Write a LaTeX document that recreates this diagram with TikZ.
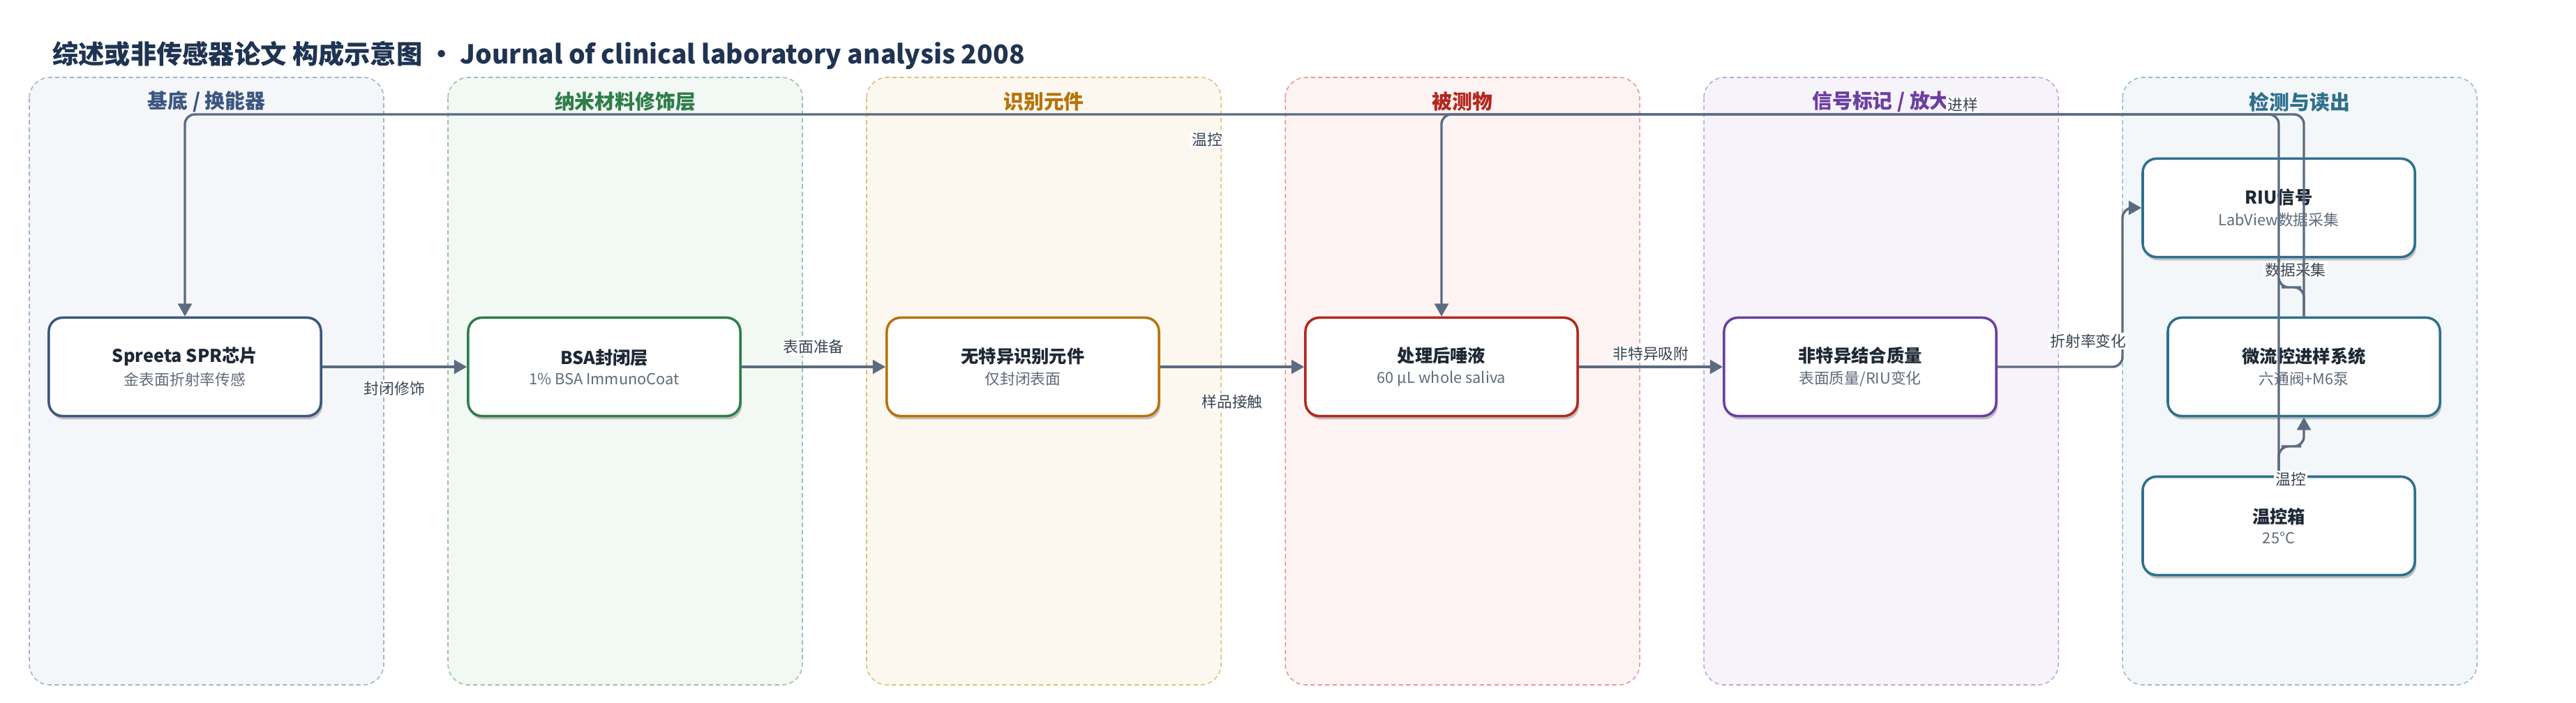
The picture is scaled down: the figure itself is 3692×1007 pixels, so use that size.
\documentclass[tikz,border=0pt]{standalone}
\usepackage{fontspec}
\setmainfont{Noto Sans CJK SC}
\usetikzlibrary{arrows.meta,shadows}

\definecolor{titlec}{HTML}{1F3352}
\definecolor{edgec}{HTML}{5B6B80}
\definecolor{labc}{HTML}{3A4452}
\definecolor{boxt}{HTML}{1E2835}
\definecolor{boxs}{HTML}{606B7A}
% lane colours: fill / dash / header
\definecolor{fA}{HTML}{F4F6FA}\definecolor{dA}{HTML}{A3B3C9}\definecolor{hA}{HTML}{3B5680}
\definecolor{fB}{HTML}{F2F8F3}\definecolor{dB}{HTML}{98C4A6}\definecolor{hB}{HTML}{2E7D4A}
\definecolor{fC}{HTML}{FDF8EF}\definecolor{dC}{HTML}{E3BD7A}\definecolor{hC}{HTML}{B8730A}
\definecolor{fD}{HTML}{FDF3F2}\definecolor{dD}{HTML}{E29A96}\definecolor{hD}{HTML}{B3261E}
\definecolor{fE}{HTML}{F7F3FB}\definecolor{dE}{HTML}{C0A3DC}\definecolor{hE}{HTML}{6B3FA0}
\definecolor{fF}{HTML}{F3F7F9}\definecolor{dF}{HTML}{97BCCB}\definecolor{hF}{HTML}{2E6F8E}

\newcommand{\boxtxt}[2]{{\bfseries\fontsize{18}{21}\selectfont\color{boxt}#1}\\[6pt]{\fontsize{15.5}{18}\selectfont\color{boxs}#2}}

\begin{document}
\begin{tikzpicture}[x=0.025cm,y=-0.025cm,
    lane/.style={line width=1.1pt, dash pattern=on 4.5pt off 3pt, rounded corners=21pt},
    head/.style={font=\bfseries\fontsize{20.5}{24}\selectfont},
    box/.style={draw, line width=2.5pt, rounded corners=14pt, fill=white,
      minimum width=9.75cm, minimum height=3.525cm, align=center,
      drop shadow={shadow xshift=1.5pt, shadow yshift=-3.5pt, opacity=.22, fill=black}},
    flow/.style={draw=edgec, line width=2.4pt, rounded corners=10pt,
      -{Triangle[length=13pt,width=14pt]}},
    elabel/.style={fill=white, inner sep=1.5pt, text=labc, font=\fontsize{15.5}{18}\selectfont}]

        \useasboundingbox (0,0) rectangle (3692,1007);
        \fill[white] (0,0) rectangle (3692,1007);

        \node[anchor=west, inner sep=0, text=titlec, font=\bfseries\fontsize{26.5}{30}\selectfont] (title) at (75,79)
          {综述或非传感器论文 构成示意图 • Journal of clinical laboratory analysis 2008};

        % lanes
        \draw[lane, fill=fA, draw=dA] (42,111)   rectangle (550,982);
        \draw[lane, fill=fB, draw=dB] (642,111)  rectangle (1150,982);
        \draw[lane, fill=fC, draw=dC] (1242,111) rectangle (1750,982);
        \draw[lane, fill=fD, draw=dD] (1842,111) rectangle (2350,982);
        \draw[lane, fill=fE, draw=dE] (2442,111) rectangle (2950,982);
        \draw[lane, fill=fF, draw=dF] (3042,111) rectangle (3550,982);

        \node[head, text=hA] (hA) at (296,146)  {基底 / 换能器};
        \node[head, text=hB] (hB) at (896,146)  {纳米材料修饰层};
        \node[head, text=hC] (hC) at (1496,146) {识别元件};
        \node[head, text=hD] (hD) at (2096,146) {被测物};
        \node[head, text=hE] (hE) at (2696,146) {信号标记 / 放大};
        \node[head, text=hF] (hF) at (3296,146) {检测与读出};

        \begin{scope}[every node/.style={box}]
          \node[draw=hA] (1) at (265,526)  {\boxtxt{Spreeta SPR芯片}{金表面折射率传感}};
          \node[draw=hB] (2) at (866,526)  {\boxtxt{BSA封闭层}{1\% BSA ImmunoCoat}};
          \node[draw=hC] (3) at (1466,526) {\boxtxt{无特异识别元件}{仅封闭表面}};
          \node[draw=hD] (4) at (2066,526) {\boxtxt{处理后唾液}{60 µL whole saliva}};
          \node[draw=hE] (5) at (2666,526) {\boxtxt{非特异结合质量}{表面质量/RIU变化}};
          \node[draw=hF] (6) at (3266,298) {\boxtxt{RIU信号}{LabView数据采集}};
          \node[draw=hF] (7) at (3302,526) {\boxtxt{微流控进样系统}{六通阀+M6泵}};
          \node[draw=hF] (8) at (3266,754) {\boxtxt{温控箱}{25°C}};
        \end{scope}

        \coordinate (rail) at (0,164);
        \coordinate (c5)   at (3042,298);
        \coordinate (j1)   at (3284,412);
        \coordinate (j2)   at (3284,640);

        \begin{scope}[every node/.style={elabel}, every edge/.style={flow}]
          \path (1) edge node[yshift=-22pt] {封闭修饰} (2);
          \path (2) edge node[yshift=20.5pt] {表面准备} (3);
          \path (3) edge node[yshift=-36pt] {样品接触} (4);
          \path (4) edge node[yshift=13pt] {非特异吸附} (5);
          \draw[flow] (5.east) -| (c5) -- (6.west);
          \draw[flow] (7.north) |- (j1) -| (6.south);
          \node (l8) at (3290,387) {数据采集};
          \draw[flow] (8.north) -- (8.north |- rail) -| (1.north);
          \draw[flow] (7.north) -- (7.north |- rail) -| (4.north);
          \draw[flow] (8.north) |- (j2) -| (7.south);
          \node (l5) at (2993,489)  {折射率变化};
          \node (l6) at (1730,200)  {温控};
          \node (l7) at (2813,150)  {进样};
          \node (l9) at (3283,687)  {温控};
        \end{scope}

      \end{tikzpicture}
\end{document}
